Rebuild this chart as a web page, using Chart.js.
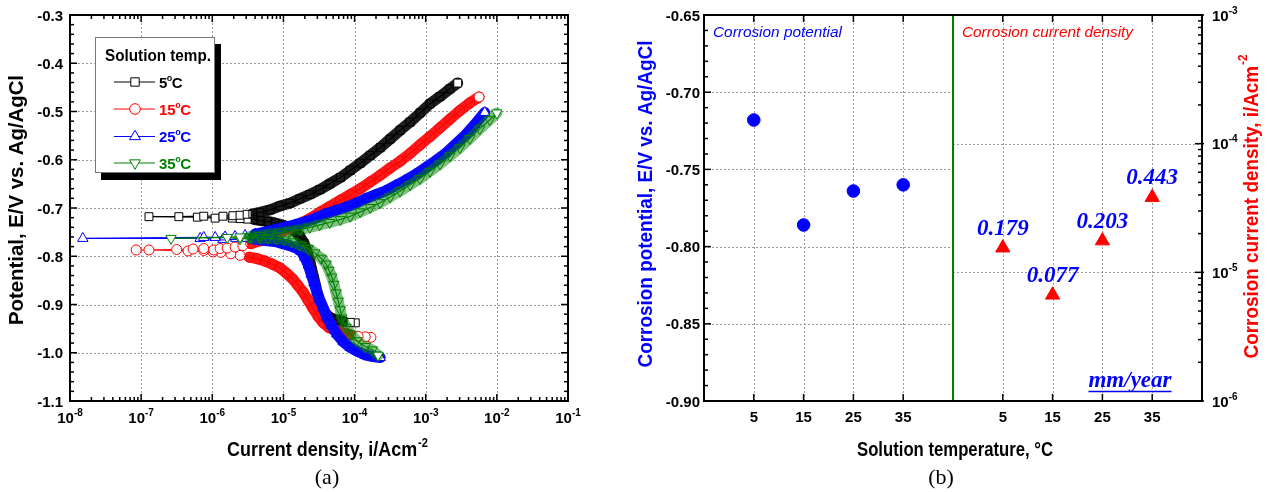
<!DOCTYPE html>
<html><head><meta charset="utf-8">
<script src="https://cdn.jsdelivr.net/npm/chart.js@4.4.1/dist/chart.umd.min.js"></script>
<style>
html,body{margin:0;padding:0;background:#fff;}
#wrap{position:relative;width:1276px;height:492px;overflow:hidden;background:#fff;}
.pane{position:absolute;top:0;}
</style></head><body>
<div id="wrap">
<div class="pane" style="left:0;width:630px;height:492px"><canvas id="ca" width="630" height="492"></canvas></div>
<div class="pane" style="left:630px;width:646px;height:492px"><canvas id="cb" width="646" height="492"></canvas></div>
</div>
<script>
// ---------------- DATA: panel (a) polarization curves (log10 current density, potential V) ----------------
const logI_5C = [-3.99,-4.06,-4.16,-4.26,-4.36,-4.44,-4.49,-4.51,-4.54,-4.57,-4.60,-4.63,-4.67,-4.71,-4.77,-4.84,-4.92,-5.02,-5.12,-5.22,-5.32,-5.41,-5.51,-5.61,-5.72,-5.96,-6.21,-6.89,
                 -6.47,-6.12,-5.85,-5.71,-5.61,-5.51,-5.43,-5.33,-5.19,-5.05,-4.91,-4.77,-4.63,-4.49,-4.35,-4.20,-4.06,-3.92,-3.78,-3.64,-3.50,-3.36,-3.22,-3.08,-2.94,-2.80,-2.66,-2.55];
const E_5C    = [-0.938,-0.937,-0.935,-0.932,-0.926,-0.913,-0.901,-0.884,-0.866,-0.847,-0.829,-0.810,-0.789,-0.773,-0.758,-0.748,-0.740,-0.735,-0.731,-0.728,-0.726,-0.724,-0.723,-0.722,-0.721,-0.721,-0.719,-0.718,
                 -0.718,-0.717,-0.717,-0.716,-0.715,-0.713,-0.712,-0.709,-0.704,-0.696,-0.690,-0.681,-0.672,-0.662,-0.650,-0.637,-0.622,-0.607,-0.591,-0.575,-0.557,-0.539,-0.522,-0.503,-0.484,-0.469,-0.453,-0.441];
const logI_15C = [-3.77,-3.85,-3.95,-4.06,-4.16,-4.26,-4.36,-4.44,-4.51,-4.58,-4.65,-4.72,-4.80,-4.87,-4.95,-5.05,-5.16,-5.26,-5.37,-5.48,-5.61,-5.74,-5.88,-5.99,-6.12,-6.34,-6.89,-7.07,
                  -6.50,-6.27,-6.12,-5.98,-5.89,-5.79,-5.68,-5.57,-5.46,-5.33,-5.19,-5.05,-4.91,-4.77,-4.63,-4.49,-4.35,-4.20,-4.06,-3.92,-3.78,-3.64,-3.50,-3.36,-3.22,-3.08,-2.94,-2.80,-2.66,-2.52,-2.38,-2.25];
const E_15C    = [-0.968,-0.967,-0.966,-0.963,-0.959,-0.954,-0.948,-0.938,-0.925,-0.909,-0.892,-0.875,-0.860,-0.847,-0.836,-0.824,-0.816,-0.810,-0.805,-0.802,-0.798,-0.795,-0.792,-0.791,-0.788,-0.789,-0.787,-0.787,
                  -0.786,-0.785,-0.784,-0.787,-0.784,-0.783,-0.781,-0.778,-0.774,-0.768,-0.760,-0.751,-0.741,-0.732,-0.722,-0.709,-0.697,-0.684,-0.672,-0.660,-0.646,-0.632,-0.617,-0.603,-0.587,-0.569,-0.552,-0.534,-0.516,-0.498,-0.482,-0.470];
const logI_25C = [-3.64,-3.74,-3.84,-3.95,-4.06,-4.16,-4.25,-4.32,-4.39,-4.44,-4.49,-4.53,-4.57,-4.61,-4.65,-4.70,-4.75,-4.82,-4.91,-5.01,-5.10,-5.22,-5.33,-5.44,-5.55,-5.67,-5.85,-6.17,-7.82,
                  -6.12,-5.96,-5.82,-5.68,-5.54,-5.40,-5.26,-5.12,-4.98,-4.84,-4.70,-4.56,-4.42,-4.28,-4.13,-3.99,-3.85,-3.71,-3.57,-3.43,-3.29,-3.15,-3.01,-2.87,-2.73,-2.59,-2.45,-2.31,-2.17];
const E_25C    = [-1.010,-1.008,-1.005,-0.998,-0.989,-0.977,-0.961,-0.944,-0.926,-0.907,-0.890,-0.874,-0.855,-0.837,-0.818,-0.802,-0.790,-0.783,-0.778,-0.774,-0.770,-0.768,-0.766,-0.764,-0.763,-0.763,-0.765,-0.763,-0.763,
                  -0.761,-0.761,-0.760,-0.759,-0.757,-0.754,-0.750,-0.745,-0.740,-0.735,-0.729,-0.722,-0.713,-0.706,-0.699,-0.691,-0.681,-0.673,-0.665,-0.654,-0.643,-0.631,-0.617,-0.603,-0.588,-0.569,-0.550,-0.527,-0.502];
const logI_35C = [-3.67,-3.75,-3.85,-3.97,-4.05,-4.12,-4.18,-4.20,-4.23,-4.26,-4.29,-4.32,-4.36,-4.40,-4.47,-4.56,-4.65,-4.77,-4.88,-4.99,-5.10,-5.22,-5.33,-5.47,-5.61,-5.79,-6.58,
                  -5.61,-5.47,-5.33,-5.19,-5.05,-4.91,-4.77,-4.63,-4.49,-4.35,-4.20,-4.06,-3.92,-3.78,-3.64,-3.50,-3.36,-3.22,-3.08,-2.94,-2.80,-2.66,-2.52,-2.38,-2.24,-2.10,-2.00];
const E_35C    = [-1.005,-0.994,-0.987,-0.975,-0.961,-0.947,-0.928,-0.911,-0.893,-0.876,-0.858,-0.843,-0.829,-0.816,-0.804,-0.793,-0.784,-0.777,-0.770,-0.766,-0.764,-0.763,-0.762,-0.762,-0.764,-0.761,-0.763,
                  -0.760,-0.759,-0.757,-0.754,-0.751,-0.748,-0.745,-0.740,-0.735,-0.730,-0.724,-0.717,-0.708,-0.699,-0.689,-0.677,-0.665,-0.652,-0.639,-0.624,-0.609,-0.592,-0.575,-0.556,-0.536,-0.517,-0.503];

// axis ticks panel (a)
const potTicksA = [-1.1,-1.0,-0.9,-0.8,-0.7,-0.6,-0.5,-0.4,-0.3];
const curDecadesA = [-8,-7,-6,-5,-4,-3,-2,-1];

// ---------------- DATA: panel (b) ----------------
const tempLabels = ['5','15','25','35'];
const corrPotential = [-0.718,-0.786,-0.764,-0.760];
const corrCurrent = [1.55e-5,6.67e-6,1.76e-5,3.83e-5];
const corrRate = ['0.179','0.077','0.203','0.443'];
const potTicksB = [-0.90,-0.85,-0.80,-0.75,-0.70,-0.65];
const curDecadesB = [-6,-5,-4,-3];

// ---------------- styles ----------------
const SANS = '"Liberation Sans", Arial, Helvetica, sans-serif';
const SERIF = '"Liberation Serif", "Times New Roman", serif';
const GREEN = '#008000';
const seriesA = [
  {temp:'5',  logI:logI_5C,  E:E_5C,  color:'#000000', band:'#1c1c1c', style:'rect',     rot:0,   r:5.6, tail:2},
  {temp:'15', logI:logI_15C, E:E_15C, color:'#ff0000', band:'#ff1a1a', style:'circle',   rot:0,   r:5.0, tail:3},
  {temp:'25', logI:logI_25C, E:E_25C, color:'#0000ff', band:'#0a0aff', style:'triangle', rot:0,   r:6.0, tail:0},
  {temp:'35', logI:logI_35C, E:E_35C, color:GREEN,     band:'rgba(0,128,0,0.5)', style:'triangle', rot:180, r:6.0, tail:0}
];
const BAND_WIDTH = 11;

function line(ctx,x1,y1,x2,y2){ctx.beginPath();ctx.moveTo(x1,y1);ctx.lineTo(x2,y2);ctx.stroke();}

function drawTitle(ctx, main, sup, cx, cy, targetW, rotate, color, size, baseline) {
  ctx.save();
  ctx.translate(cx, cy);
  if (rotate) ctx.rotate(-Math.PI/2);
  ctx.fillStyle = color;
  const f1 = 'bold ' + size + 'px ' + SANS, f2 = 'bold ' + Math.round(size*0.62) + 'px ' + SANS;
  ctx.font = f1; const w1 = ctx.measureText(main).width;
  ctx.font = f2; const w2 = sup ? ctx.measureText(sup).width : 0;
  const tw = w1 + w2, s = targetW / tw;
  ctx.scale(s, 1);
  ctx.textBaseline = baseline; ctx.textAlign = 'left';
  ctx.font = f1; ctx.fillText(main, -tw/2, 0);
  if (sup) { ctx.font = f2; ctx.fillText(sup, -tw/2 + w1 + 1, -size*0.42); }
  ctx.restore();
}
function fitText(ctx, text, x, y, targetW, font, color, align) {
  ctx.save();
  ctx.font = font; ctx.fillStyle = color;
  const w = ctx.measureText(text).width, s = targetW / w;
  ctx.translate(x, y); ctx.scale(s, 1);
  ctx.textAlign = align || 'left'; ctx.textBaseline = 'alphabetic';
  ctx.fillText(text, 0, 0);
  ctx.restore();
}
function powLabel(ctx, exp, x, y, align) {
  const f1 = 'bold 15px ' + SANS, f2 = 'bold 10px ' + SANS;
  ctx.font = f1; const w1 = ctx.measureText('10').width;
  ctx.font = f2; const w2 = ctx.measureText(String(exp)).width;
  let x0 = align === 'center' ? x - (w1 + w2)/2 : x;
  ctx.textAlign = 'left'; ctx.textBaseline = 'alphabetic';
  ctx.font = f1; ctx.fillText('10', x0, y);
  ctx.font = f2; ctx.fillText(String(exp), x0 + w1, y - 7);
}
function marker(ctx, style, rot, x, y, r, color) {
  ctx.save();
  ctx.strokeStyle = color; ctx.fillStyle = '#fff'; ctx.lineWidth = 1; ctx.setLineDash([]);
  ctx.beginPath();
  if (style === 'rect') { const s = r*Math.SQRT1_2; ctx.rect(x-s, y-s, 2*s, 2*s); }
  else if (style === 'circle') { ctx.arc(x, y, r, 0, Math.PI*2); }
  else {
    const sgn = rot ? -1 : 1;
    ctx.moveTo(x, y - sgn*r);
    ctx.lineTo(x + r*Math.sin(2*Math.PI/3), y + sgn*r/2);
    ctx.lineTo(x - r*Math.sin(2*Math.PI/3), y + sgn*r/2);
    ctx.closePath();
  }
  ctx.fill(); ctx.stroke();
  ctx.restore();
}

// ---------------- panel (a) ----------------
const datasetsA = [];
seriesA.forEach((s, k) => {
  const pts = s.logI.map((l, i) => ({x: Math.pow(10, l), y: s.E[i]}));
  const sparse = s.logI.map((l, i) => l < -5.5 || i < s.tail);
  datasetsA.push({
    data: pts.map((p, i) => sparse[i] ? {x: p.x, y: null} : p),
    showLine: true, borderColor: s.band, borderWidth: BAND_WIDTH, pointRadius: 0,
    borderCapStyle: 'round', borderJoinStyle: 'round', spanGaps: false, order: 20 - 2*k
  });
  datasetsA.push({
    data: pts, showLine: true, borderColor: s.color, borderWidth: 1.2,
    pointStyle: s.style, pointRotation: s.rot, pointRadius: s.r, pointBorderWidth: 1,
    pointBorderColor: s.color,
    pointBackgroundColor: sparse.map((b, i) => (b || i === pts.length - 1 || i === 0) ? '#ffffff' : 'rgba(255,255,255,0)'),
    order: 19 - 2*k
  });
});

const pluginA = {
  id: 'decorA',
  beforeDatasetsDraw(chart) {
    const {ctx, chartArea: a, scales: {x, y}} = chart;
    ctx.save();
    ctx.strokeStyle = '#9a9a9a'; ctx.lineWidth = 1; ctx.setLineDash([2, 2]);
    curDecadesA.forEach(d => {
      const px = Math.round(x.getPixelForValue(Math.pow(10, d))) + 0.5;
      if (px > a.left + 3 && px < a.right - 3) line(ctx, px, a.top, px, a.bottom);
    });
    potTicksA.forEach(v => {
      const py = Math.round(y.getPixelForValue(v)) + 0.5;
      if (py > a.top + 3 && py < a.bottom - 3) line(ctx, a.left, py, a.right, py);
    });
    ctx.restore();
  },
  afterDatasetsDraw(chart) {
    const {ctx, chartArea: a, scales: {x, y}} = chart;
    ctx.save();
    ctx.setLineDash([]);
    ctx.strokeStyle = '#000'; ctx.fillStyle = '#000';
    ctx.lineWidth = 2;
    ctx.strokeRect(a.left, a.top, a.right - a.left, a.bottom - a.top);
    ctx.lineWidth = 1.5;
    curDecadesA.forEach((d, j) => {
      const px = x.getPixelForValue(Math.pow(10, d));
      line(ctx, px, a.bottom, px, a.bottom - 7); line(ctx, px, a.top, px, a.top + 7);
      if (j < curDecadesA.length - 1) for (let m = 2; m <= 9; m++) {
        const pm = x.getPixelForValue(m * Math.pow(10, d));
        line(ctx, pm, a.bottom, pm, a.bottom - 4); line(ctx, pm, a.top, pm, a.top + 4);
      }
    });
    potTicksA.forEach((v, j) => {
      const py = y.getPixelForValue(v);
      line(ctx, a.left, py, a.left + 7, py); line(ctx, a.right, py, a.right - 7, py);
      if (j < potTicksA.length - 1) for (let k = 1; k < 5; k++) {
        const pm = y.getPixelForValue(v + k * 0.02);
        line(ctx, a.left, pm, a.left + 4, pm); line(ctx, a.right, pm, a.right - 4, pm);
      }
    });
    // tick labels
    ctx.fillStyle = '#000';
    ctx.font = 'bold 15px ' + SANS; ctx.textAlign = 'right'; ctx.textBaseline = 'alphabetic';
    potTicksA.forEach(v => { ctx.fillText(v.toFixed(1), a.left - 7, y.getPixelForValue(v) + 5.5); });
    curDecadesA.forEach(d => { powLabel(ctx, d, x.getPixelForValue(Math.pow(10, d)), a.bottom + 22, 'center'); });
    // titles
    drawTitle(ctx, 'Potential, E/V vs. Ag/AgCl', '', 17, 200, 250, true, '#000', 21, 'middle');
    drawTitle(ctx, 'Current density, i/Acm', '-2', 327, a.bottom + 55, 200, false, '#000', 21, 'alphabetic');
    ctx.font = '22px ' + SERIF; ctx.textAlign = 'center'; ctx.fillStyle = '#000';
    ctx.fillText('(a)', 327, 484);
    // legend
    const L = {x: a.left + 25, y: a.top + 22, w: 120, h: 136};
    ctx.fillStyle = '#000'; ctx.fillRect(L.x + 6, L.y + 7, L.w, L.h);
    ctx.fillStyle = '#fff'; ctx.fillRect(L.x, L.y, L.w, L.h);
    ctx.strokeStyle = '#777'; ctx.lineWidth = 1; ctx.strokeRect(L.x + 0.5, L.y + 0.5, L.w - 1, L.h - 1);
    fitText(ctx, 'Solution temp.', L.x + 10, L.y + 24, 106, 'bold 16px ' + SANS, '#000', 'left');
    const rows = [45, 72, 99.5, 126];
    seriesA.forEach((s, k) => {
      const ry = L.y + rows[k];
      ctx.strokeStyle = s.color; ctx.lineWidth = 1.2;
      line(ctx, L.x + 19, ry, L.x + 60, ry);
      marker(ctx, s.style, s.rot, L.x + 40, ry, s.r + 0.3, s.color);
      ctx.fillStyle = s.color; ctx.textAlign = 'left'; ctx.textBaseline = 'alphabetic';
      ctx.font = 'bold 15px ' + SANS;
      let tx = L.x + 64;
      ctx.fillText(s.temp, tx, ry + 5.5); tx += ctx.measureText(s.temp).width;
      ctx.font = 'bold 9px ' + SANS; ctx.fillText('o', tx - 0.5, ry - 1.5); tx += ctx.measureText('o').width - 1;
      ctx.font = 'bold 15px ' + SANS; ctx.fillText('C', tx, ry + 5.5);
    });
    ctx.restore();
  }
};

new Chart(document.getElementById('ca'), {
  type: 'scatter',
  data: {datasets: datasetsA},
  options: {
    responsive: false, animation: false, events: [], devicePixelRatio: 1,
    layout: {padding: {left: 70, top: 15, right: 62, bottom: 91}},
    plugins: {legend: {display: false}, tooltip: {enabled: false}},
    scales: {
      x: {type: 'logarithmic', min: 1e-8, max: 1e-1, display: false},
      y: {type: 'linear', min: -1.1, max: -0.3, display: false}
    }
  },
  plugins: [pluginA]
});

// ---------------- panel (b) ----------------
const datasetsB = [
  {data: corrPotential.map((v, k) => ({x: k + 1, y: v})), yAxisID: 'yL', pointStyle: 'circle', pointRadius: 6.3,
   pointBackgroundColor: '#0000ff', pointBorderColor: '#0000ff', showLine: false},
  {data: corrCurrent.map((v, k) => ({x: k + 6, y: v})), yAxisID: 'yR', pointStyle: 'triangle', pointRadius: 8.2,
   pointBackgroundColor: '#ff0000', pointBorderColor: '#ff0000', showLine: false}
];

const pluginB = {
  id: 'decorB',
  beforeDatasetsDraw(chart) {
    const {ctx, chartArea: a, scales: {x, yL, yR}} = chart;
    const xg = x.getPixelForValue(5);
    ctx.save();
    ctx.strokeStyle = '#9a9a9a'; ctx.lineWidth = 1; ctx.setLineDash([2, 2]);
    tempLabels.forEach((t, k) => {
      [k + 1, k + 6].forEach(v => { const px = Math.round(x.getPixelForValue(v)) + 0.5; line(ctx, px, a.top, px, a.bottom); });
    });
    potTicksB.forEach(v => {
      const py = Math.round(yL.getPixelForValue(v)) + 0.5;
      if (py > a.top + 3 && py < a.bottom - 3) line(ctx, a.left, py, xg, py);
    });
    curDecadesB.forEach(d => {
      const py = Math.round(yR.getPixelForValue(Math.pow(10, d))) + 0.5;
      if (py > a.top + 3 && py < a.bottom - 3) line(ctx, xg, py, a.right, py);
    });
    ctx.restore();
  },
  afterDatasetsDraw(chart) {
    const {ctx, chartArea: a, scales: {x, yL, yR}} = chart;
    const xg = x.getPixelForValue(5);
    ctx.save();
    ctx.setLineDash([]);
    ctx.strokeStyle = '#000'; ctx.lineWidth = 2;
    ctx.strokeRect(a.left, a.top, a.right - a.left, a.bottom - a.top);
    ctx.strokeStyle = GREEN; ctx.lineWidth = 2;
    line(ctx, xg, a.top + 1, xg, a.bottom - 1);
    ctx.strokeStyle = '#000'; ctx.lineWidth = 1.5;
    tempLabels.forEach((t, k) => {
      [k + 1, k + 6].forEach(v => {
        const px = x.getPixelForValue(v);
        line(ctx, px, a.bottom, px, a.bottom - 7); line(ctx, px, a.top, px, a.top + 7);
      });
    });
    potTicksB.forEach((v, j) => {
      const py = yL.getPixelForValue(v);
      line(ctx, a.left, py, a.left + 7, py);
      if (j < potTicksB.length - 1) for (let k = 1; k < 5; k++) {
        const pm = yL.getPixelForValue(v + k * 0.01);
        line(ctx, a.left, pm, a.left + 4, pm);
      }
    });
    curDecadesB.forEach((d, j) => {
      const py = yR.getPixelForValue(Math.pow(10, d));
      line(ctx, a.right + 2, py, a.right - 7, py);
      if (j < curDecadesB.length - 1) for (let m = 2; m <= 9; m++) {
        const pm = yR.getPixelForValue(m * Math.pow(10, d));
        line(ctx, a.right, pm, a.right - 4, pm);
      }
    });
    // tick labels
    ctx.fillStyle = '#000'; ctx.font = 'bold 15px ' + SANS; ctx.textBaseline = 'alphabetic';
    ctx.textAlign = 'right';
    potTicksB.forEach(v => ctx.fillText(v.toFixed(2), a.left - 4, yL.getPixelForValue(v) + 5.5));
    tempLabels.forEach((t, k) => {
      ctx.font = 'bold 15px ' + SANS; ctx.textAlign = 'center';
      ctx.fillText(t, x.getPixelForValue(k + 1), a.bottom + 21);
      ctx.fillText(t, x.getPixelForValue(k + 6), a.bottom + 21);
    });
    curDecadesB.forEach(d => powLabel(ctx, d, a.right + 10, yR.getPixelForValue(Math.pow(10, d)) + 5.5, 'left'));
    // axis titles
    drawTitle(ctx, 'Corrosion potential, E/V vs. Ag/AgCl', '', 16, 204, 327, true, '#0000ff', 21, 'middle');
    drawTitle(ctx, 'Corrosion current density, i/Acm', '-2', 622, 207, 303, true, '#ff0000', 21, 'middle');
    drawTitle(ctx, 'Solution temperature, \u00B0C', '', 325, a.bottom + 55, 196, false, '#000', 21, 'alphabetic');
    ctx.font = '22px ' + SERIF; ctx.textAlign = 'center'; ctx.fillStyle = '#000';
    ctx.fillText('(b)', 311, 484);
    // panel captions
    fitText(ctx, 'Corrosion potential', a.left + 9, a.top + 22, 129, 'italic 15px ' + SANS, '#0000ff', 'left');
    fitText(ctx, 'Corrosion current density', xg + 9, a.top + 22, 171, 'italic 15px ' + SANS, '#ff0000', 'left');
    // corrosion rate labels
    const meta = chart.getDatasetMeta(1);
    ctx.font = 'bold italic 23px ' + SERIF; ctx.fillStyle = '#0000ff'; ctx.textAlign = 'center';
    meta.data.forEach((pt, k) => ctx.fillText(corrRate[k], pt.x, pt.y - 13));
    const ux = a.right - 72, uy = a.bottom - 14;
    ctx.fillText('mm/year', ux, uy);
    const uw = ctx.measureText('mm/year').width;
    ctx.strokeStyle = '#0000ff'; ctx.lineWidth = 1.5;
    line(ctx, ux - uw/2, uy + 4.5, ux + uw/2, uy + 4.5);
    ctx.restore();
  }
};

new Chart(document.getElementById('cb'), {
  type: 'scatter',
  data: {datasets: datasetsB},
  options: {
    responsive: false, animation: false, events: [], devicePixelRatio: 1,
    layout: {padding: {left: 74, top: 15, right: 74, bottom: 91}},
    plugins: {legend: {display: false}, tooltip: {enabled: false}},
    scales: {
      x: {type: 'linear', min: 0, max: 10, display: false},
      yL: {type: 'linear', position: 'left', min: -0.90, max: -0.65, display: false},
      yR: {type: 'logarithmic', position: 'right', min: 1e-6, max: 1e-3, display: false}
    }
  },
  plugins: [pluginB]
});
</script>
</body></html>
